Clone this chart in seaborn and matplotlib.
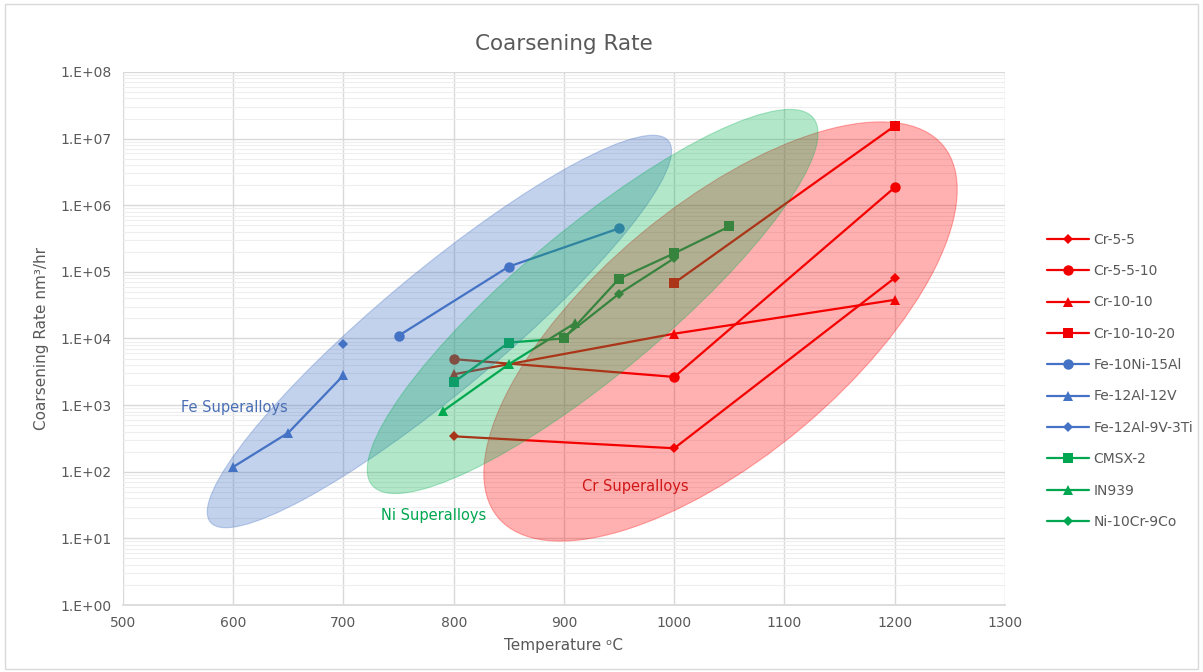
import numpy as np
import pandas as pd
import matplotlib
matplotlib.use('Agg')
import matplotlib.pyplot as plt
import seaborn as sns
from matplotlib.patches import Ellipse
from matplotlib.transforms import Affine2D
from matplotlib.ticker import FixedLocator, FuncFormatter, LogLocator, NullFormatter

# --- data (temperature in C, rate in nm3/hr) ---
SERIES = ["Cr-5-5", "Cr-5-5-10", "Cr-10-10", "Cr-10-10-20",
          "Fe-10Ni-15Al", "Fe-12Al-12V", "Fe-12Al-9V-3Ti",
          "CMSX-2", "IN939", "Ni-10Cr-9Co"]

cr_5_5_temp = [800, 1000, 1200]
cr_5_5_rate = [340, 225, 8.1e4]
cr_5_5_10_temp = [800, 1000, 1200]
cr_5_5_10_rate = [4.9e3, 2.65e3, 1.85e6]
cr_10_10_temp = [800, 1000, 1200]
cr_10_10_rate = [2.9e3, 1.18e4, 3.8e4]
cr_10_10_20_temp = [1000, 1200]
cr_10_10_20_rate = [6.8e4, 1.55e7]
fe_10ni_15al_temp = [750, 850, 950]
fe_10ni_15al_rate = [1.1e4, 1.2e5, 4.5e5]
fe_12al_12v_temp = [600, 650, 700]
fe_12al_12v_rate = [118, 385, 2.8e3]
fe_12al_9v_3ti_temp = [700]
fe_12al_9v_3ti_rate = [8.2e3]
cmsx2_temp = [800, 850, 900, 950, 1000, 1050]
cmsx2_rate = [2.2e3, 8.7e3, 1.0e4, 7.9e4, 1.9e5, 4.8e5]
in939_temp = [790, 850, 910]
in939_rate = [810, 4.1e3, 1.7e4]
ni_10cr_9co_temp = [900, 950, 1000]
ni_10cr_9co_rate = [1.05e4, 4.7e4, 1.6e5]

temps = [cr_5_5_temp, cr_5_5_10_temp, cr_10_10_temp, cr_10_10_20_temp,
         fe_10ni_15al_temp, fe_12al_12v_temp, fe_12al_9v_3ti_temp,
         cmsx2_temp, in939_temp, ni_10cr_9co_temp]
rates = [cr_5_5_rate, cr_5_5_10_rate, cr_10_10_rate, cr_10_10_20_rate,
         fe_10ni_15al_rate, fe_12al_12v_rate, fe_12al_9v_3ti_rate,
         cmsx2_rate, in939_rate, ni_10cr_9co_rate]

# 样式
RED, BLUE, GREEN = "#F00000", "#4472C4", "#00A650"
palette = {s: RED for s in SERIES[:4]}
palette.update({s: BLUE for s in SERIES[4:7]})
palette.update({s: GREEN for s in SERIES[7:]})
markers = dict(zip(SERIES, ["D", "o", "^", "s", "o", "^", "D", "s", "^", "D"]))
marker_sizes = {"D": 5.0, "o": 7.5, "^": 7.5, "s": 7.5}

# group regions: label, centre temperature, centre log10(rate), semi-axes (px), angle
# drawing order blue -> red -> green (green sits on top in the reference)
GROUPS = ["Fe Superalloys", "Cr Superalloys", "Ni Superalloys"]
group_center_temp = [787, 1042, 926]
group_center_log = [4.105, 4.105, 4.555]
group_semi_major = [298, 290, 287]
group_semi_minor = [60, 126, 73]
group_angle = [39.8, 39.9, 39.8]
group_fill = ["#4472C4", "#FF0000", "#00B050"]
group_alpha = [0.32, 0.31, 0.30]
group_label_temp = [601, 965, 782]
group_label_rate = [910, 61, 21.7]
group_label_color = ["#4A6FB5", "#D01818", "#00A650"]

df = pd.DataFrame({
    "Series": np.concatenate([[s] * len(t) for s, t in zip(SERIES, temps)]),
    "Temperature": np.concatenate(temps),
    "Rate": np.concatenate(rates),
})

sns.set_theme(style="white")
plt.rcParams['font.family'] = ['DejaVu Sans']

fig = plt.figure(figsize=(12.03, 6.72), dpi=100)
ax = fig.add_axes([0.1022, 0.0997, 0.7332, 0.7932])

sns.lineplot(data=df, x="Temperature", y="Rate", hue="Series", style="Series",
             hue_order=SERIES, style_order=SERIES, palette=palette, markers=markers,
             dashes=False, markersize=7.5, linewidth=1.6, markeredgewidth=0,
             ax=ax, zorder=2)
for ln in ax.lines:
    m = ln.get_marker()
    if m in marker_sizes:
        ln.set_markersize(marker_sizes[m])

ax.set_yscale("log")
ax.set_xlim(500, 1300)
ax.set_ylim(1, 1e8)

# 椭圆：在轴像素坐标中定义（轴框大小 882 x 533 像素）
AX_W, AX_H = 882.0, 533.0
ell_tr = Affine2D().scale(1 / AX_W, 1 / AX_H) + ax.transAxes
for i in range(3):
    cx = (group_center_temp[i] - 500) / 800 * AX_W
    cy = group_center_log[i] / 8 * AX_H
    e = Ellipse((cx, cy), 2 * group_semi_major[i], 2 * group_semi_minor[i],
                angle=group_angle[i], transform=ell_tr, facecolor=group_fill[i],
                edgecolor=group_fill[i], linewidth=0.8, alpha=group_alpha[i], zorder=3)
    ax.add_patch(e)
    ax.text(group_label_temp[i], group_label_rate[i], GROUPS[i], color=group_label_color[i],
            fontsize=10.5, ha="center", va="center", zorder=4)

# 网格和刻度
ax.xaxis.set_major_locator(FixedLocator(np.arange(500, 1301, 100)))
ax.yaxis.set_major_locator(FixedLocator([10.0 ** k for k in range(9)]))
ax.yaxis.set_minor_locator(LogLocator(base=10, subs=np.arange(2, 10), numticks=20))
ax.yaxis.set_minor_formatter(NullFormatter())
ax.yaxis.set_major_formatter(FuncFormatter(lambda v, p: "1.E+%02d" % int(round(np.log10(v)))))
ax.grid(True, which="major", color="#D9D9D9", linewidth=1.0, zorder=0)
ax.grid(True, which="minor", axis="y", color="#EEEEEE", linewidth=0.8, zorder=0)
ax.set_axisbelow(True)
ax.tick_params(axis="both", which="both", length=0, labelsize=10, labelcolor="#595959", pad=8)
for side in ["top", "right", "left"]:
    ax.spines[side].set_visible(False)
ax.spines["bottom"].set_color("#D9D9D9")

ax.set_xlabel("Temperature \u1d52C", fontsize=11, color="#595959", labelpad=6)
ax.set_ylabel("Coarsening Rate nm\u00b3/hr", fontsize=11, color="#595959", labelpad=8)
ax.set_title("Coarsening Rate", fontsize=15.5, color="#595959", pad=16)

handles, labels = ax.get_legend_handles_labels()
leg = ax.legend(handles, labels, loc="upper left", bbox_to_anchor=(0.866, 0.662),
                bbox_transform=fig.transFigure, frameon=False, fontsize=10,
                labelcolor="#595959", handlelength=3.0, handletextpad=0.3,
                labelspacing=1.25, borderaxespad=0)
for h in leg.legend_handles:
    m = h.get_marker()
    if m in marker_sizes:
        h.set_markersize(marker_sizes[m])

# chart border
fig.patches.append(plt.Rectangle((0.004, 0.004), 0.992, 0.99, transform=fig.transFigure,
                                 fill=False, edgecolor="#D9D9D9", linewidth=1))

fig.savefig("out.png", dpi=100)
plt.close(fig)
